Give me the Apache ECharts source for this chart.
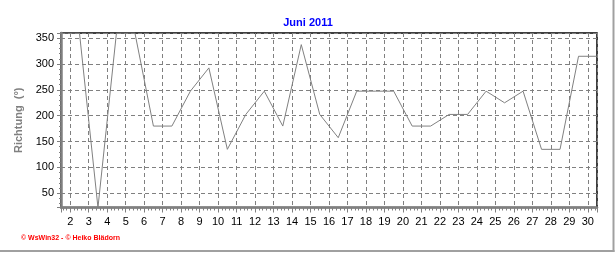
<!DOCTYPE html>
<html><head><meta charset="utf-8">
<script src="https://cdn.jsdelivr.net/npm/echarts@6/dist/echarts.min.js"></script>
<style>html,body{margin:0;padding:0;background:#fff}#c{width:616px;height:253px}</style>
</head><body><div id="c"></div>
<script>
const days = [1,2,3,4,5,6,7,8,9,10,11,12,13,14,15,16,17,18,19,20,21,22,23,24,25,26,27,28,29,30];
const richtung = [360,360,22.5,360,360,180,180,247.5,292.5,135,202.5,247.5,180,337.5,202.5,157.5,247.5,247.5,247.5,180,180,202.5,202.5,247.5,225,247.5,135,135,315,315];
const yTicks = [50,100,150,200,250,300,350];
const xTicks = [2,3,4,5,6,7,8,9,10,11,12,13,14,15,16,17,18,19,20,21,22,23,24,25,26,27,28,29,30];
const titleText = 'Juni 2011';
const yName = 'Richtung  (°)';
const footer = '© WsWin32 - © Heiko Blädorn';

const chart = echarts.init(document.getElementById('c'), null, {renderer:'canvas'});
const gridC = '#808080';
chart.setOption({
  animation:false,
  backgroundColor:'#fff',
  title:{text:titleText,left:'center',top:12,textStyle:{color:'#0000ff',fontSize:11,fontWeight:'bold',fontFamily:'Liberation Sans'}},
  grid:{left:61,top:33,width:536,height:174.5,show:true,borderColor:'#000',borderWidth:1.5,backgroundColor:'transparent'},
  xAxis:{type:'value',min:1.5,max:30.5,splitNumber:29,minInterval:1,maxInterval:1,
    axisLine:{show:true,lineStyle:{color:gridC,width:2.5}},
    axisTick:{show:true,length:5,lineStyle:{color:gridC,width:1}},
    minorTick:{show:true,splitNumber:5,length:3,lineStyle:{color:gridC,width:1}},
    axisLabel:{margin:9,fontSize:11,color:'#000',fontFamily:'Liberation Sans',
      formatter:v=>xTicks.includes(Math.round(v*1000)/1000)?String(Math.round(v)):'' ,showMinLabel:false,showMaxLabel:false},
    splitLine:{show:true,lineStyle:{color:gridC,type:[4,3],width:1}}
  },
  yAxis:{type:'value',min:22.5,max:360,splitNumber:7,minInterval:50,maxInterval:50,
    name:yName,nameLocation:'middle',nameGap:30,
    nameTextStyle:{color:'#808080',fontSize:11,fontWeight:'bold',fontFamily:'Liberation Sans'},
    axisLine:{show:true,lineStyle:{color:gridC,width:2.5}},
    axisTick:{show:true,length:4,lineStyle:{color:gridC,width:1}},
    minorTick:{show:true,splitNumber:5,length:2,lineStyle:{color:gridC,width:1}},
    axisLabel:{margin:7,fontSize:11,color:'#000',fontFamily:'Liberation Sans',
      formatter:v=>yTicks.includes(Math.round(v*1000)/1000)?String(Math.round(v)):'',showMinLabel:false,showMaxLabel:false},
    splitLine:{show:true,lineStyle:{color:gridC,type:[4,3],width:1}}
  },
  series:[{type:'line',data:days.map((d,i)=>[d+0.5,richtung[i]]),symbol:'none',
    lineStyle:{color:'#808080',width:1},clip:true}],
  graphic:[
    {type:'text',left:21,top:235,style:{text:footer,fill:'#ff0000',font:'bold 7px "Liberation Sans"'}},
    {type:'line',shape:{x1:613.5,y1:0,x2:613.5,y2:252},style:{stroke:'#a0a0a0',lineWidth:2}},
    {type:'line',shape:{x1:0,y1:251,x2:614.5,y2:251},style:{stroke:'#a0a0a0',lineWidth:2}}
  ]
});
</script></body></html>
